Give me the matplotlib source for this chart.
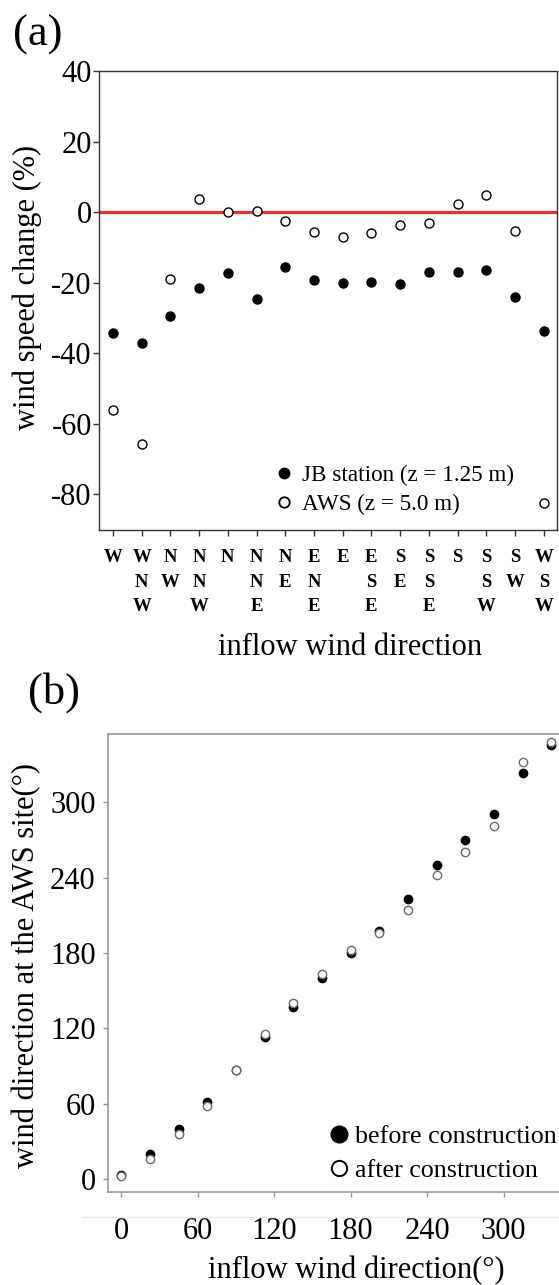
#!/usr/bin/env python3
"""
Wind speed change by inflow direction (a) and wind direction at the AWS site
before/after construction (b).
Run: python plot.py  -> out.png
"""
import matplotlib

matplotlib.use("Agg")
import matplotlib.pyplot as plt
from matplotlib.lines import Line2D

plt.rcParams["font.family"] = ["Liberation Serif", "DejaVu Serif"]
plt.rcParams["axes.unicode_minus"] = False

# ---- data, panel (a) ----
directions = ["W", "WNW", "NW", "NNW", "N", "NNE", "NE", "ENE",
              "E", "ESE", "SE", "SSE", "S", "SSW", "SW", "WSW"]
jb_change = [-34.4, -37.1, -29.5, -21.6, -17.4, -24.7, -15.5, -19.2,
             -20.1, -19.9, -20.3, -16.9, -16.9, -16.5, -24.1, -33.7]
aws_change = [-56.2, -65.8, -19.1, 3.7, 0.0, 0.4, -2.5, -5.8,
              -7.2, -6.0, -3.6, -3.1, 2.2, 4.8, -5.3, -82.4]
a_yticks = [-80, -60, -40, -20, 0, 20, 40]

# ---- data, panel (b) ----
inflow_deg = [0, 22.5, 45, 67.5, 90, 112.5, 135, 157.5,
              180, 202.5, 225, 247.5, 270, 292.5, 315, 337.5]
before_deg = [3.0, 19.7, 39.8, 61.4, 87.0, 112.9, 136.8, 160.4,
              180.1, 197.8, 223.1, 249.9, 269.7, 290.3, 323.0, 345.6]
after_deg = [2.0, 16.2, 35.9, 58.2, 86.9, 115.5, 140.2, 163.3,
             182.0, 195.5, 214.3, 242.0, 260.6, 280.7, 331.8, 348.3]
b_ticks = [0, 60, 120, 180, 240, 300]

W, H = 559, 1285


def px_box(left, top, right, bottom):
    """axes rectangle from pixel edges (origin top-left)"""
    return [left / W, 1 - bottom / H, (right - left) / W, (bottom - top) / H]


def main():
    fig = plt.figure(figsize=(W / 100, H / 100), dpi=100)

    # ---------- (a) ----------
    ax1 = fig.add_axes(px_box(99.4, 71, 557, 530))
    xs = list(range(len(directions)))
    ax1.axhline(0, color="#e8322b", linewidth=2.3, zorder=1)
    ax1.plot(xs, jb_change, "o", ls="none", color="black", ms=6.5, zorder=3)
    ax1.plot(xs, aws_change, "o", ls="none", mfc="white", mec="black",
             mew=1.0, ms=6.5, zorder=3)
    ax1.set_xlim(-0.47, 15.46)
    ax1.set_ylim(-90.2, 40)
    ax1.set_yticks(a_yticks)
    ax1.set_yticklabels([str(v) for v in a_yticks])
    ax1.set_xticks(xs)
    ax1.set_xticklabels(["\n".join(d) for d in directions], fontweight="bold",
                        fontsize=13.5, linespacing=1.55)
    ax1.tick_params(axis="y", labelsize=22, length=4.5, width=1, pad=1, color="#333333")
    ax1.tick_params(axis="x", length=4, width=1, pad=10, color="#333333")
    for s in ax1.spines.values():
        s.set_color("#333333")
        s.set_linewidth(1.0)
    ax1.set_xlabel("inflow wind direction", fontsize=22)
    ax1.xaxis.set_label_coords(0.5477, -0.2244)

    handles_a = [
        Line2D([], [], marker="o", ls="none", color="black", ms=7.5),
        Line2D([], [], marker="o", ls="none", mfc="white", mec="black", mew=1.3, ms=7.5),
    ]
    ax1.legend(handles_a, ["JB station (z = 1.25 m)", "AWS (z = 5.0 m)"],
               loc="center left", bbox_to_anchor=(0.377, 0.0871), frameon=False,
               fontsize=16.7, handlelength=1.0, handletextpad=0.3,
               labelspacing=0.35, borderpad=0, borderaxespad=0)

    fig.text(27 / W, 1 - 287 / H, "wind speed change (%)", rotation=90,
             ha="center", va="center", fontsize=22)
    fig.text(13 / W, 1 - 35 / H, "(a)", ha="left", va="center", fontsize=32)

    # ---------- (b) ----------
    ax2 = fig.add_axes(px_box(108.3, 733.7, 559, 1192.3))
    ax2.plot(inflow_deg, before_deg, "o", ls="none", color="black", ms=6.0, zorder=3)
    ax2.plot(inflow_deg, after_deg, "o", ls="none", mfc="white", mec="#6a6a6a",
             mew=1.0, ms=6.0, zorder=4)
    ax2.set_xlim(-10.1, 343.4)
    ax2.set_ylim(-10.6, 354.6)
    ax2.set_xticks(b_ticks)
    ax2.set_yticks(b_ticks)
    ax2.tick_params(axis="both", labelsize=22, length=3.6, width=1, color="#999999")
    ax2.tick_params(axis="y", pad=5.5)
    ax2.tick_params(axis="x", pad=14)
    for s in ax2.spines.values():
        s.set_color("#999999")
        s.set_linewidth(1.2)
    ax2.spines["right"].set_visible(False)
    ax2.set_xlabel("inflow wind direction(°)", fontsize=22)
    ax2.xaxis.set_label_coords(0.5496, -0.139)

    handles_b = [
        Line2D([], [], marker="o", ls="none", color="black", ms=12),
        Line2D([], [], marker="o", ls="none", mfc="white", mec="black", mew=1.4, ms=11),
    ]
    ax2.legend(handles_b, ["before construction", "after construction"],
               loc="center left", bbox_to_anchor=(0.482, 0.0848), frameon=False,
               fontsize=18.7, handlelength=1.0, handletextpad=0.12,
               labelspacing=0.4, borderpad=0, borderaxespad=0)

    # faint rule above the x tick labels of (b)
    fig.add_artist(Line2D([81.7 / W, 1.0], [1 - 1217 / H] * 2, color="#ececec", lw=1))

    fig.text(27 / W, 1 - 965 / H, "wind direction at the AWS site(°)", rotation=90,
             ha="center", va="center", fontsize=22)
    fig.text(28 / W, 1 - 693 / H, "(b)", ha="left", va="center", fontsize=32)

    fig.savefig("out.png", dpi=100, facecolor="white")
    plt.close(fig)


if __name__ == "__main__":
    main()
